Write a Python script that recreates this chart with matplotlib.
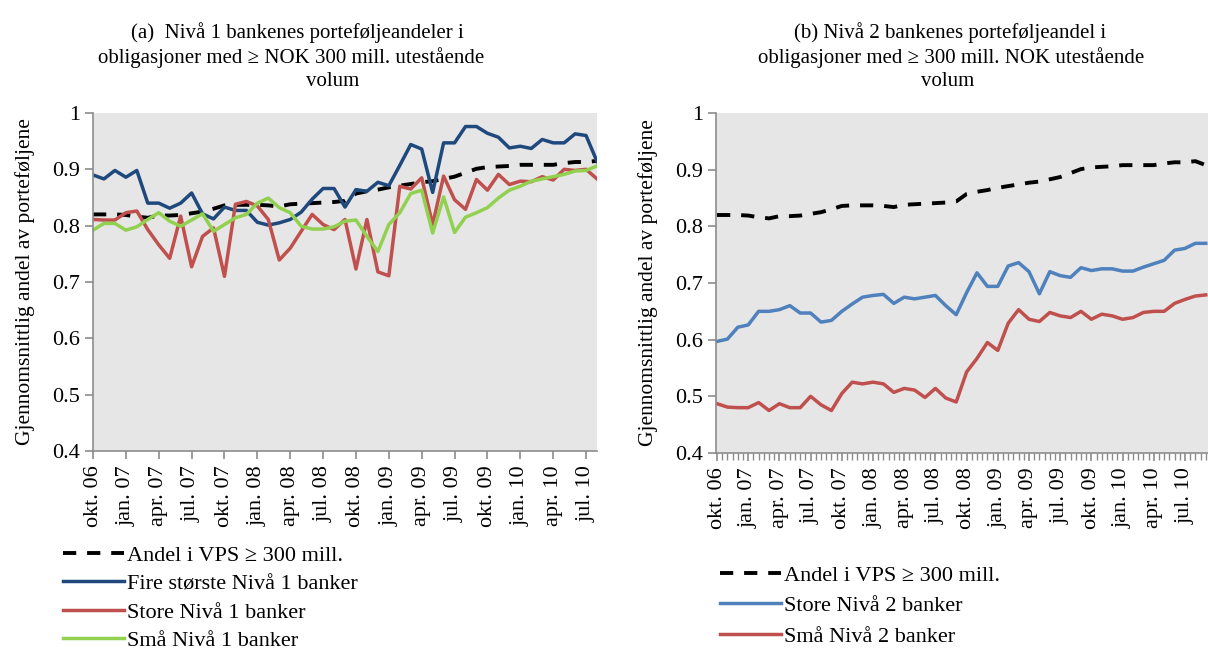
import numpy as np
import matplotlib
matplotlib.use("Agg")
import matplotlib.pyplot as plt

plt.rcParams['font.family'] = ['Liberation Serif', 'DejaVu Serif']

# monthly observations, okt.06 -> aug.10 (left) / sep.10 (right, cut at edge)
tick_labels = ['okt. 06', 'jan. 07', 'apr. 07', 'jul. 07', 'okt. 07', 'jan. 08', 'apr. 08', 'jul. 08',
               'okt. 08', 'jan. 09', 'apr. 09', 'jul. 09', 'okt. 09', 'jan. 10', 'apr. 10', 'jul. 10']

andel_vps = [0.820, 0.820, 0.820, 0.819, 0.816, 0.814, 0.818, 0.818, 0.819, 0.822,
             0.825, 0.830, 0.836, 0.837, 0.837, 0.837, 0.836, 0.834, 0.838, 0.839,
             0.840, 0.841, 0.842, 0.844, 0.857, 0.861, 0.864, 0.868, 0.871, 0.874,
             0.877, 0.879, 0.883, 0.887, 0.894, 0.901, 0.904, 0.905, 0.906, 0.908,
             0.908, 0.908, 0.908, 0.911, 0.913, 0.913, 0.915, 0.908]

fire_storste_n1 = [0.890, 0.883, 0.898, 0.886, 0.898, 0.840, 0.840, 0.831, 0.840, 0.858,
                   0.821, 0.812, 0.833, 0.827, 0.827, 0.806, 0.801, 0.805, 0.811, 0.824,
                   0.847, 0.866, 0.866, 0.833, 0.864, 0.861, 0.877, 0.871, 0.907, 0.944,
                   0.936, 0.859, 0.947, 0.947, 0.976, 0.976, 0.964, 0.957, 0.938, 0.941,
                   0.937, 0.953, 0.947, 0.947, 0.963, 0.960, 0.914]

store_n1 = [0.811, 0.810, 0.810, 0.823, 0.826, 0.793, 0.766, 0.742, 0.817, 0.727,
            0.781, 0.796, 0.710, 0.838, 0.843, 0.835, 0.811, 0.739, 0.760, 0.790,
            0.820, 0.802, 0.793, 0.811, 0.723, 0.811, 0.718, 0.711, 0.870, 0.865,
            0.885, 0.802, 0.888, 0.846, 0.829, 0.882, 0.863, 0.891, 0.873, 0.879,
            0.878, 0.887, 0.881, 0.900, 0.898, 0.900, 0.883]

sma_n1 = [0.792, 0.804, 0.804, 0.792, 0.798, 0.811, 0.823, 0.808, 0.799, 0.810,
          0.821, 0.790, 0.802, 0.814, 0.820, 0.840, 0.849, 0.832, 0.823, 0.799,
          0.794, 0.794, 0.798, 0.808, 0.810, 0.781, 0.754, 0.802, 0.823, 0.857,
          0.863, 0.787, 0.851, 0.788, 0.815, 0.823, 0.832, 0.849, 0.863, 0.870,
          0.879, 0.883, 0.887, 0.891, 0.897, 0.898, 0.906]

store_n2 = [0.597, 0.601, 0.622, 0.626, 0.650, 0.650, 0.653, 0.660, 0.647, 0.647,
            0.631, 0.634, 0.650, 0.663, 0.675, 0.678, 0.680, 0.664, 0.675, 0.672,
            0.675, 0.678, 0.660, 0.644, 0.683, 0.718, 0.694, 0.694, 0.730, 0.736,
            0.720, 0.681, 0.720, 0.713, 0.710, 0.727, 0.722, 0.725, 0.725, 0.721,
            0.721, 0.728, 0.734, 0.740, 0.758, 0.761, 0.770, 0.770]

sma_n2 = [0.487, 0.481, 0.480, 0.480, 0.489, 0.475, 0.487, 0.480, 0.480, 0.500,
          0.485, 0.475, 0.505, 0.525, 0.522, 0.525, 0.522, 0.507, 0.514, 0.511,
          0.498, 0.514, 0.497, 0.490, 0.543, 0.567, 0.595, 0.581, 0.629, 0.653,
          0.636, 0.632, 0.648, 0.642, 0.639, 0.650, 0.636, 0.645, 0.642, 0.636,
          0.639, 0.648, 0.650, 0.650, 0.664, 0.671, 0.677, 0.679]

yticks = [0.4, 0.5, 0.6, 0.7, 0.8, 0.9, 1.0]
ytick_labels = ['0.4', '0.5', '0.6', '0.7', '0.8', '0.9', '1']

W, H = 1208, 650
fig = plt.figure(figsize=(W/100, H/100), dpi=100)

def px_axes(x0, y0, x1, y1):
    return fig.add_axes([x0/W, 1 - y1/H, (x1-x0)/W, (y1-y0)/H])

ax1 = px_axes(93, 113, 597, 451)
ax2 = px_axes(716, 113, 1212, 453)

BG = '#E6E6E6'; SP = '#8C8C8C'
DASH = (0, (3.4, 2.8))

for ax in (ax1, ax2):
    ax.set_facecolor(BG)
    for s in ('top', 'right'):
        ax.spines[s].set_visible(False)
    for s in ('left', 'bottom'):
        ax.spines[s].set_color(SP); ax.spines[s].set_linewidth(1.2)
    ax.set_ylim(0.4, 1.0)
    ax.set_yticks(yticks); ax.set_yticklabels(ytick_labels)
    ax.set_xticks(np.arange(0, 46, 3)); ax.set_xticklabels(tick_labels, rotation=90)
    ax.tick_params(axis='both', direction='out', color=SP, width=1.2, length=6, labelsize=16)
    ax.tick_params(axis='x', pad=4)
    ax.set_ylabel('Gjennomsnittlig andel av porteføljene', fontsize=15.5, labelpad=12)

x1 = np.arange(len(fire_storste_n1))
ax1.plot(x1, andel_vps[:len(x1)], color='black', lw=2.8, ls=DASH, label='Andel i VPS ≥ 300 mill.')
ax1.plot(x1, fire_storste_n1, color='#1F497D', lw=2.5, label='Fire største Nivå 1 banker')
ax1.plot(x1, store_n1, color='#C0504D', lw=2.5, label='Store Nivå 1 banker')
ax1.plot(x1, sma_n1, color='#92D050', lw=2.5, label='Små Nivå 1 banker')
ax1.set_xlim(0, len(x1) - 1)

x2 = np.arange(len(store_n2))
ax2.plot(x2, andel_vps, color='black', lw=2.8, ls=DASH, label='Andel i VPS ≥ 300 mill.')
ax2.plot(x2, store_n2, color='#4F81BD', lw=2.5, label='Store Nivå 2 banker')
ax2.plot(x2, sma_n2, color='#C0504D', lw=2.5, label='Små Nivå 2 banker')
ax2.set_xlim(-0.1, 47.6)
ax2.set_xticks(np.arange(0, 48, 0.5), minor=True)
ax2.tick_params(axis='x', which='minor', direction='out', color=SP, width=1.0, length=5)

# titles
for txt, cx, cy in [('(a)  Nivå 1 bankenes porteføljeandeler i', 297, 33),
                    ('obligasjoner med ≥ NOK 300 mill. utestående', 291, 58),
                    ('volum', 333, 82),
                    ('(b) Nivå 2 bankenes porteføljeandel i', 950, 33),
                    ('obligasjoner med ≥ 300 mill. NOK utestående', 951, 58),
                    ('volum', 948, 82)]:
    fig.text(cx/W, 1 - cy/H, txt, ha='center', va='center', fontsize=15)

leg_kw = dict(frameon=False, fontsize=16, loc='upper left', borderaxespad=0, borderpad=0,
              handlelength=2.75, handletextpad=0.15)
h, l = ax1.get_legend_handles_labels()
fig.legend(h, l, bbox_to_anchor=(63/W, 1 - 545/H), labelspacing=0.36, **leg_kw)
h, l = ax2.get_legend_handles_labels()
fig.legend(h, l, bbox_to_anchor=(720/W, 1 - 565/H), labelspacing=0.45, **leg_kw)

fig.savefig('out.png', dpi=100)
